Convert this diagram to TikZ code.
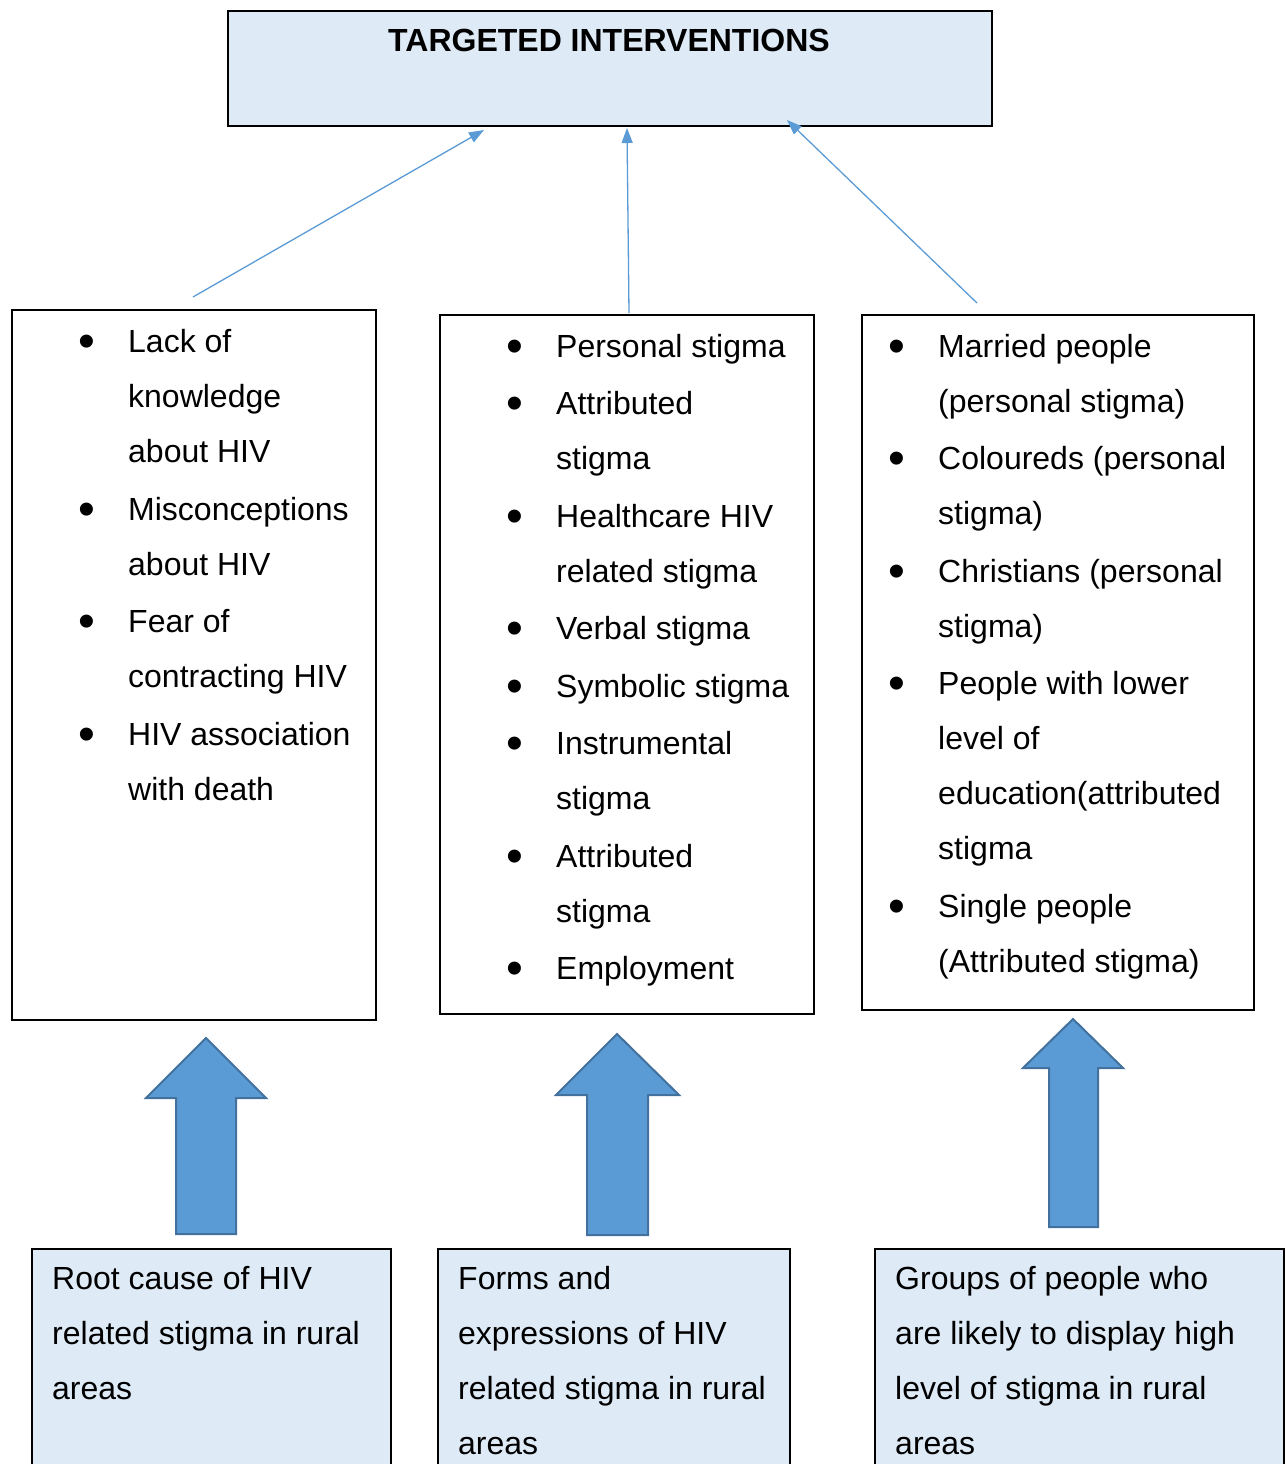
\documentclass[tikz,border=0pt]{standalone}
\usepackage{fontspec}
\setmainfont{Liberation Sans}
\usetikzlibrary{arrows.meta,calc}
\definecolor{accent}{HTML}{5B9BD5}
\definecolor{accentdark}{HTML}{41719C}
\definecolor{panel}{HTML}{DEEAF6}
% bullet cell: an enlarged bullet centred in an 82pt wide box
\newcommand\bl{\makebox[82pt]{\raisebox{-5pt}{\scalebox{1.5}{\textbullet}}}}
\begin{document}
\begin{tikzpicture}[x=1pt,y=-1pt,
  frame/.style={draw=black, line width=1.6pt, inner sep=0pt, anchor=north west},
  listbox/.style={frame, fill=white},
  shaded/.style={frame, fill=panel},
  body/.style={inner sep=0pt, anchor=base west, font=\fontsize{32}{55}\selectfont},
  link/.style={draw=accent, line width=1.3pt, -{Triangle[length=15pt,width=11pt]}},
  bigarrow/.style={fill=accent, draw=accentdark, line width=2pt, line join=miter}
]
\clip (0,0) rectangle (1285,1464);

% title box
\node[shaded, line width=2pt, minimum width=764pt, minimum height=115pt] (T) at (227,10) {};
\node[inner sep=0pt, anchor=base, font=\bfseries\fontsize{32}{38}\selectfont] (Tt) at (609,51.5) {TARGETED INTERVENTIONS};

% list boxes
\node[listbox, minimum width=364pt, minimum height=710pt] (L) at (11,309) {};
\node[listbox, minimum width=374pt, minimum height=699pt] (M) at (439,314) {};
\node[listbox, minimum width=392pt, minimum height=695pt] (R) at (861,314) {};

\node[body] (Lt) at (46,352) {\begin{tabular}[t]{@{}l@{}l@{}}
\bl & Lack of\\
    & knowledge\\
    & about HIV\\[3pt]
\bl & Misconceptions\\
    & about HIV\\[2pt]
\bl & Fear of\\
    & contracting HIV\\[3pt]
\bl & HIV association\\
    & with death
\end{tabular}};

\node[body] (Mt) at (474,357) {\begin{tabular}[t]{@{}l@{}l@{}}
\bl & Personal stigma\\[2.5pt]
\bl & Attributed\\
    & stigma\\[2.5pt]
\bl & Healthcare HIV\\
    & related stigma\\[2.5pt]
\bl & Verbal stigma\\[2.5pt]
\bl & Symbolic stigma\\[2.5pt]
\bl & Instrumental\\
    & stigma\\[2.5pt]
\bl & Attributed\\
    & stigma\\[2.5pt]
\bl & Employment
\end{tabular}};

\node[body] (Rt) at (856,357) {\begin{tabular}[t]{@{}l@{}l@{}}
\bl & Married people\\
    & (personal stigma)\\[2.5pt]
\bl & Coloureds (personal\\
    & stigma)\\[2.5pt]
\bl & Christians (personal\\
    & stigma)\\[2.5pt]
\bl & People with lower\\
    & level of\\
    & education(attributed\\
    & stigma\\[2.5pt]
\bl & Single people\\
    & (Attributed stigma)
\end{tabular}};

% bottom boxes
\node[shaded, minimum width=359pt, minimum height=240pt] (B1) at (31,1248) {};
\node[shaded, minimum width=352pt, minimum height=240pt] (B2) at (437,1248) {};
\node[shaded, minimum width=409pt, minimum height=240pt] (B3) at (874,1248) {};

\node[body] (B1t) at (52,1289) {\begin{tabular}[t]{@{}l@{}}
Root cause of HIV\\
related stigma in rural\\
areas
\end{tabular}};
\node[body] (B2t) at (458,1289) {\begin{tabular}[t]{@{}l@{}}
Forms and\\
expressions of HIV\\
related stigma in rural\\
areas
\end{tabular}};
\node[body] (B3t) at (895,1289) {\begin{tabular}[t]{@{}l@{}}
Groups of people who\\
are likely to display high\\
level of stigma in rural\\
areas
\end{tabular}};

% thin connectors into the title box
\coordinate (s1) at ($(L.north west)+(182,-12)$);
\coordinate (s3) at ($(R.north west)+(116,-11)$);
\draw[link] (s1) -- ($(T.south west)+(257,3)$);
\draw[link] ($(M.north west)+(190,-1)$) -- ($(T.south west)+(400,1)$);
\draw[link] (s3) -- ($(T.south west)+(560,-7)$);

% block arrows from the bottom boxes up to the lists
\draw[bigarrow] (206,1038) -- (266,1098) -- (236,1098) -- (236,1234) -- (176,1234) -- (176,1098) -- (146,1098) -- cycle;
\draw[bigarrow] (617,1034) -- (679,1095) -- (648,1095) -- (648,1235) -- (587,1235) -- (587,1095) -- (556,1095) -- cycle;
\draw[bigarrow] (1073,1019) -- (1123,1068) -- (1098,1068) -- (1098,1227) -- (1049,1227) -- (1049,1068) -- (1023,1068) -- cycle;
\end{tikzpicture}
\end{document}
